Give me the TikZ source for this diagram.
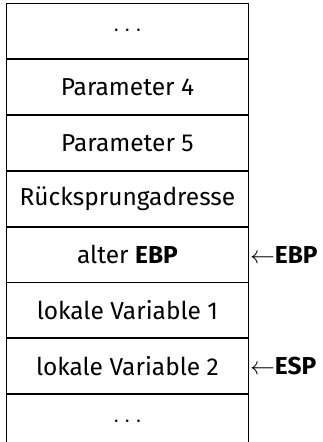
\documentclass[tikz,border=0pt]{standalone}
\usepackage{fontspec}
\setmainfont{Fira Sans}
\begin{document}
\begin{tikzpicture}[x=1pt,y=1pt,
  cell/.style={draw, line width=0.9pt, minimum width=242pt, minimum height=55pt,
    inner sep=0pt, anchor=north west, font=\fontsize{24.5}{29}\selectfont},
  pointer/.style={anchor=west, inner sep=0pt, font=\fontsize{24.5}{29}\selectfont}]
\useasboundingbox (0,0) rectangle (323,442);
% stack cells, top to bottom
\node[cell] (c1) at (6,439) {$\cdots$};
\node[cell] (c2) at (c1.south west) {Parameter 4};
\node[cell] (c3) at (c2.south west) {Parameter 5};
\node[cell] (c4) at (c3.south west) {Rücksprungadresse};
\node[cell] (c5) at (c4.south west) {alter \textbf{EBP}};
\node[cell] (c6) at (c5.south west) {lokale Variable 1};
\node[cell] (c7) at (c6.south west) {lokale Variable 2};
\node[cell] (c8) at (c7.south west) {$\cdots$};
% register pointers
\node[pointer] (ebp) at ([xshift=1pt]c5.east) {$\leftarrow$\textbf{EBP}};
\node[pointer] (esp) at ([xshift=1pt]c7.east) {$\leftarrow$\textbf{ESP}};
\end{tikzpicture}
\end{document}
